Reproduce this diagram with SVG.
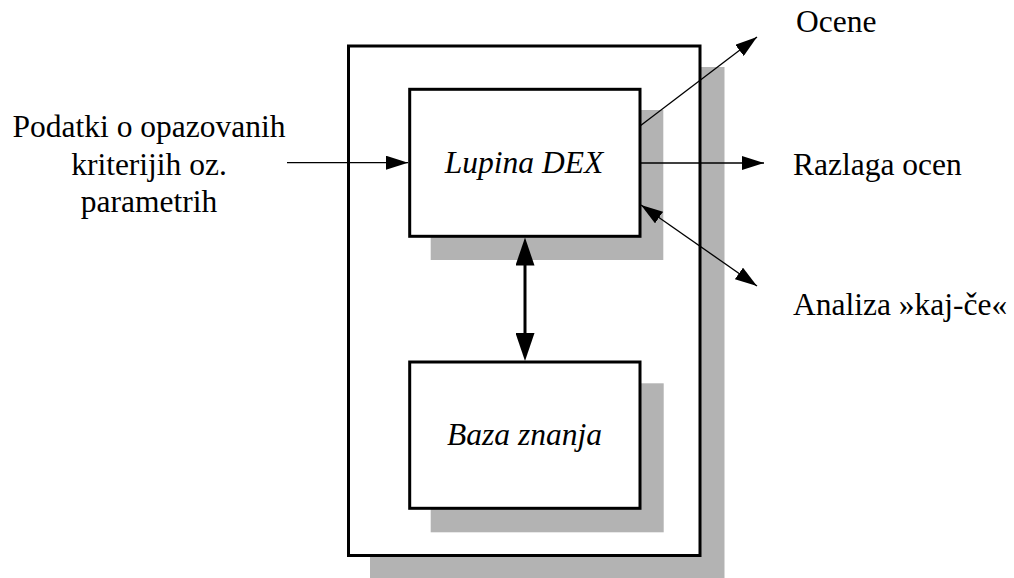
<svg xmlns="http://www.w3.org/2000/svg" width="1014" height="578" viewBox="0 0 1014 578">
<style>
.shadow{fill:#b3b3b3;stroke:none}
.box{fill:#fff;stroke:#000;stroke-width:3}
.thin{stroke:#000;stroke-width:1.3;fill:none}
.thick{stroke:#000;stroke-width:3;fill:none}
</style>
<defs>
<marker id="ah" markerUnits="userSpaceOnUse" viewBox="0 0 22 14" refX="22" refY="7" markerWidth="22" markerHeight="14" orient="auto-start-reverse">
<path d="M0,0 L22,7 L0,14 Z" fill="#000"/>
</marker>
<marker id="ahb" markerUnits="userSpaceOnUse" viewBox="0 0 28 19" refX="16" refY="9.5" markerWidth="28" markerHeight="19" orient="auto-start-reverse">
<path d="M0,0 L28,9.5 L0,19 Z" fill="#000"/>
</marker>
</defs>
<g id="system">
<rect class="shadow" x="370" y="67" width="354.5" height="511"/>
<rect class="box" x="348.5" y="46" width="351.5" height="509.5"/>
</g>
<g id="lupina">
<rect class="shadow" x="430.7" y="110" width="232.6" height="150"/>
<rect class="box" x="409.7" y="89.3" width="230.3" height="147"/>
<text font-family="Liberation Serif, serif" font-size="31.5" font-style="italic" fill="#000" x="524" y="173" text-anchor="middle">Lupina DEX</text>
</g>
<g id="baza">
<rect class="shadow" x="430.7" y="383.3" width="233" height="149"/>
<rect class="box" x="409.7" y="362" width="230.3" height="146.3"/>
<text font-family="Liberation Serif, serif" font-size="31.5" font-style="italic" fill="#000" x="524.5" y="445" text-anchor="middle">Baza znanja</text>
</g>
<g id="input" font-family="Liberation Serif, serif" font-size="31.5" fill="#000" text-anchor="middle">
<text x="149" y="137">Podatki o opazovanih</text>
<text x="149" y="174.5">kriterijih oz.</text>
<text x="149" y="212">parametrih</text>
</g>
<g id="outputs" font-family="Liberation Serif, serif" font-size="31.5" fill="#000">
<text x="796" y="32">Ocene</text>
<text x="793" y="175">Razlaga ocen</text>
<text x="793" y="315">Analiza »kaj-če«</text>
</g>
<g id="connectors">
<line class="thin" x1="287" y1="162.7" x2="408" y2="162.7" marker-end="url(#ah)"/>
<line class="thin" x1="640" y1="126" x2="757" y2="37" marker-end="url(#ah)"/>
<line class="thin" x1="640" y1="163" x2="764" y2="163" marker-end="url(#ah)"/>
<line class="thin" x1="641" y1="205" x2="757" y2="286" marker-start="url(#ah)" marker-end="url(#ah)"/>
<line class="thick" x1="525" y1="249.5" x2="525" y2="349" marker-start="url(#ahb)" marker-end="url(#ahb)"/>
</g>
</svg>
